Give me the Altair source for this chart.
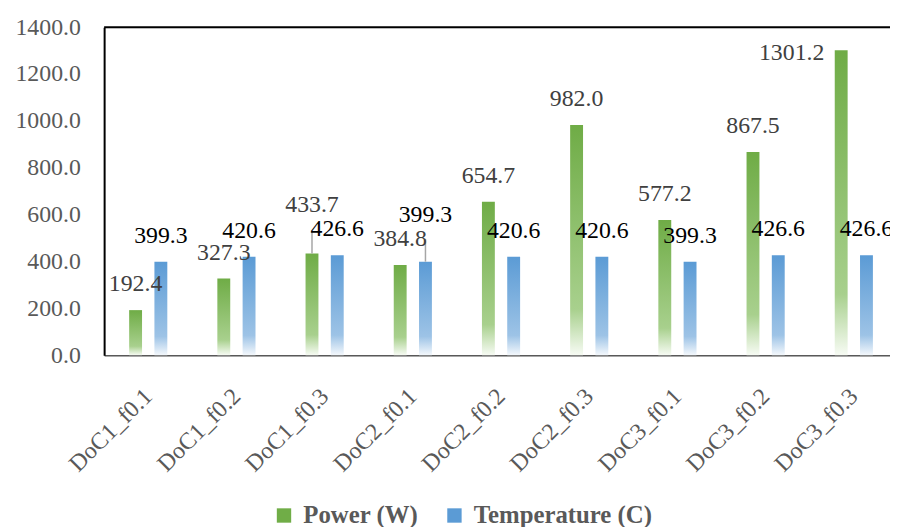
import altair as alt
import pandas as pd

categories = ["DoC1_f0.1", "DoC1_f0.2", "DoC1_f0.3", "DoC2_f0.1", "DoC2_f0.2",
              "DoC2_f0.3", "DoC3_f0.1", "DoC3_f0.2", "DoC3_f0.3"]
power = [192.4, 327.3, 433.7, 384.8, 654.7, 982.0, 577.2, 867.5, 1301.2]
temperature = [399.3, 420.6, 426.6, 399.3, 420.6, 420.6, 399.3, 426.6, 426.6]
series_names = ["Power (W)", "Temperature (C)"]
y_ticks = [0, 200, 400, 600, 800, 1000, 1200, 1400]

rows = []
for c, p, t in zip(categories, power, temperature):
    rows.append({"category": c, "series": series_names[0], "value": p})
    rows.append({"category": c, "series": series_names[1], "value": t})
df = pd.DataFrame(rows)

FONT = "Liberation Serif"
PLOT_W = 793
PLOT_H = 331
BAND_RANGE = 801

green_grad = {"gradient": "linear", "x1": 0, "y1": 0, "x2": 0, "y2": 1,
              "stops": [{"offset": 0, "color": "#6FAC46"},
                        {"offset": 0.8, "color": "#A8D08D"},
                        {"offset": 1, "color": "#F7FBF4"}]}
blue_grad = {"gradient": "linear", "x1": 0, "y1": 0, "x2": 0, "y2": 1,
             "stops": [{"offset": 0, "color": "#5B9BD5"},
                       {"offset": 0.8, "color": "#9DC3E6"},
                       {"offset": 1, "color": "#F4F8FC"}]}

base = alt.Chart(df).encode(
    x=alt.X("category:N",
            scale=alt.Scale(domain=categories, range=[0, BAND_RANGE], paddingInner=0, paddingOuter=0),
            axis=alt.Axis(title=None, labelAngle=-45, labelAlign="right", labelBaseline="top",
                          labelPadding=29, labelOffset=-8, ticks=False, tickSize=0, labelFont=FONT,
                          labelFontSize=24, labelColor="#595959", domainColor="#595959", domainWidth=1.5)),
    xOffset=alt.XOffset("series:N",
                        scale=alt.Scale(domain=series_names, paddingInner=0.49, paddingOuter=0.99)),
    y=alt.Y("value:Q", scale=alt.Scale(domain=[0, 1400], nice=False, zero=True),
            axis=alt.Axis(title=None, values=y_ticks, format=".1f", ticks=False, tickSize=0, grid=False,
                          labelFont=FONT, labelFontSize=24, labelColor="#595959", labelPadding=24,
                          domainColor="#000000", domainWidth=2)),
)

is_power = alt.datum.series == series_names[0]
is_temp = alt.datum.series == series_names[1]

power_bars = base.transform_filter(is_power).mark_bar(fill=green_grad)
temp_bars = base.transform_filter(is_temp).mark_bar(fill=blue_grad)

legend_layer = base.mark_square(opacity=0, size=1).encode(
    color=alt.Color("series:N",
                    scale=alt.Scale(domain=series_names, range=["#70AD47", "#5B9BD5"]),
                    legend=alt.Legend(title=None, orient="none", legendX=169, legendY=480,
                                      direction="horizontal", symbolType="square", symbolSize=210,
                                      symbolOpacity=1, symbolStrokeWidth=0, labelFont=FONT,
                                      labelFontSize=25, labelFontWeight="bold", labelColor="#595959",
                                      labelLimit=0, columnPadding=24, labelOffset=7))
)

lift_px = 23
lift_units = lift_px * 1400 / PLOT_H

side_or_lift = alt.FieldOneOfPredicate(field="category", oneOf=["DoC1_f0.3", "DoC3_f0.3"])
temp_lifted = alt.datum.category == "DoC2_f0.1"

label_txt = alt.Text("value:Q", format=".1f")
LBL = dict(font=FONT, fontSize=24, baseline="alphabetic")

p_labels = base.transform_filter(is_power).transform_filter(~side_or_lift).mark_text(
    dy=-19, color="#404040", **LBL).encode(text=label_txt)
p_lift = base.transform_filter(is_power).transform_filter(alt.datum.category == "DoC1_f0.3").mark_text(
    dy=-42, color="#404040", **LBL).encode(text=label_txt)
p_side = base.transform_filter(is_power).transform_filter(alt.datum.category == "DoC3_f0.3").mark_text(
    dy=10, dx=-17, align="right", color="#404040", **LBL).encode(text=label_txt)
t_labels = base.transform_filter(is_temp).transform_filter(~temp_lifted).mark_text(
    dy=-19, color="#000000", **LBL).encode(text=label_txt)
t_lift = base.transform_filter(is_temp).transform_filter(temp_lifted).mark_text(
    dy=-40, color="#000000", **LBL).encode(text=label_txt)

leaders = base.transform_filter(
    ((alt.datum.category == "DoC1_f0.3") & is_power) | ((alt.datum.category == "DoC2_f0.1") & is_temp)
).transform_calculate(top=f"datum.value + {lift_units}").mark_rule(color="#A6A6A6", strokeWidth=1.5).encode(
    y2="top:Q")

frame_top = alt.Chart(pd.DataFrame({"k": [0]})).mark_rule(color="#000000", strokeWidth=2).encode(
    x=alt.value(0), x2=alt.value(PLOT_W), y=alt.value(0))

chart = alt.layer(
    power_bars, temp_bars, legend_layer, leaders, frame_top,
    p_labels, p_lift, p_side, t_labels, t_lift
).properties(
    width=PLOT_W, height=PLOT_H,
    autosize=alt.AutoSizeParams(type="none"),
    padding={"left": 97, "top": 17, "right": 0, "bottom": 171},
).configure_view(stroke=None).configure(background="white", font=FONT).configure_text(font=FONT)

chart.save("out.html", embed_options={"renderer": "svg", "actions": False})
